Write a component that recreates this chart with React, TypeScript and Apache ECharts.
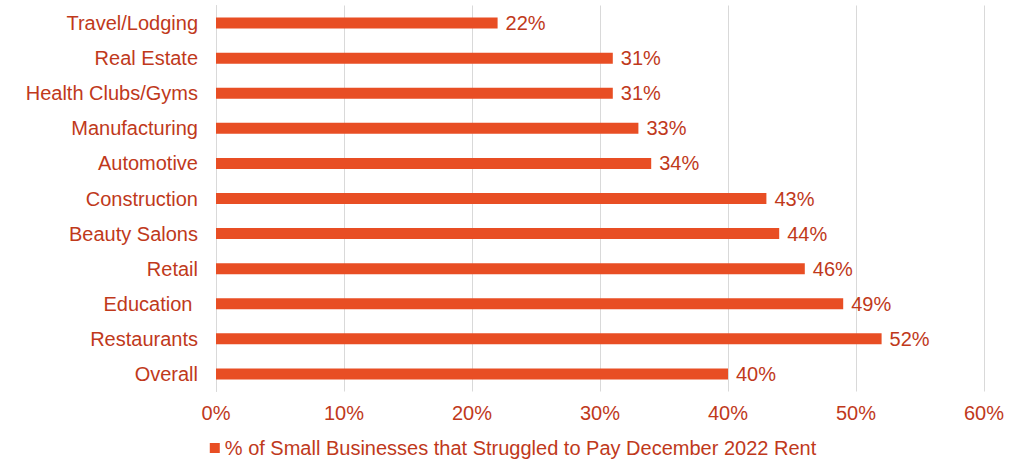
import React, { useEffect, useRef } from "react";
import * as echarts from "echarts";

const categories = [
  "Overall",
  "Restaurants",
  "Education ",
  "Retail",
  "Beauty Salons",
  "Construction",
  "Automotive",
  "Manufacturing",
  "Health Clubs/Gyms",
  "Real Estate",
  "Travel/Lodging",
];
const values = [40, 52, 49, 46, 44, 43, 34, 33, 31, 31, 22];
const seriesName = "% of Small Businesses that Struggled to Pay December 2022 Rent";

const BAR = "#E84E24";
const TEXT = "#C0391B";
const FONT = "Liberation Sans, Arial, sans-serif";
const FS = 20;

export default function App() {
  const ref = useRef<HTMLDivElement>(null);
  useEffect(() => {
    if (!ref.current) return;
    const chart = echarts.init(ref.current, undefined, { renderer: "svg" });
    chart.setOption({
      animation: false,
      textStyle: { fontFamily: FONT },
      grid: { left: 216, right: 42, top: 5.5, bottom: 69.5, containLabel: false },
      legend: {
        bottom: -2,
        left: "center",
        itemWidth: 10,
        itemHeight: 10,
        icon: "rect",
        itemGap: 5,
        textStyle: { color: TEXT, fontSize: FS, fontFamily: FONT },
        data: [seriesName],
      },
      xAxis: {
        type: "value",
        min: 0,
        max: 60,
        interval: 10,
        axisLine: { show: false },
        axisTick: { show: false },
        splitLine: { lineStyle: { color: "#D9D9D9", width: 1 } },
        axisLabel: {
          color: TEXT,
          fontSize: FS,
          fontFamily: FONT,
          margin: 11,
          formatter: (v: number) => v + "%",
        },
      },
      yAxis: {
        type: "category",
        data: categories,
        axisLine: { show: true, lineStyle: { color: "#D9D9D9" } },
        axisTick: { show: false },
        axisLabel: { color: TEXT, fontSize: FS, fontFamily: FONT, margin: 18 },
      },
      series: [
        {
          name: seriesName,
          type: "bar",
          data: values,
          barWidth: 11,
          itemStyle: { color: BAR },
          label: {
            show: true,
            position: "right",
            distance: 8,
            color: TEXT,
            fontSize: FS,
            fontFamily: FONT,
            formatter: (p: any) => p.value + "%",
          },
        },
      ],
    });
    return () => chart.dispose();
  }, []);
  return <div ref={ref} style={{ width: 1026, height: 461, position: "absolute", left: 0, top: 0 }} />;
}
